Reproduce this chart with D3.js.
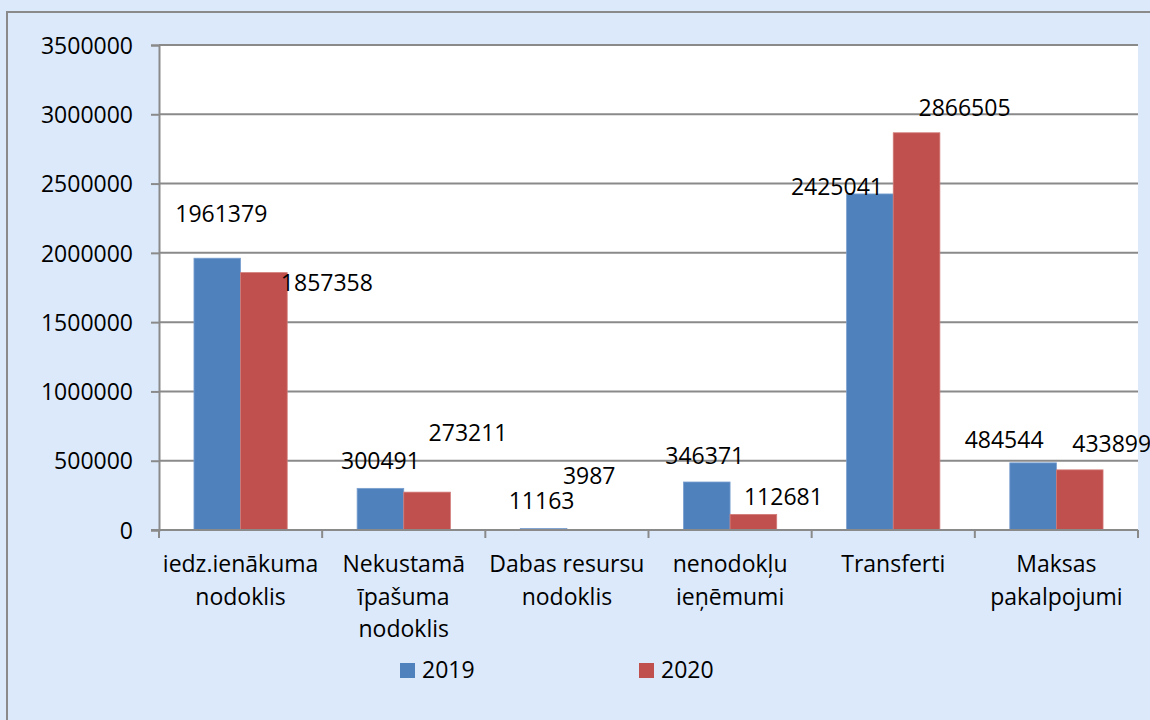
<!DOCTYPE html>
<html>
<head>
<meta charset="utf-8">
<script src="https://cdn.jsdelivr.net/npm/d3@7"></script>
<style>
  html, body { margin: 0; padding: 0; background: #dbe9fb; }
  svg { display: block; font-family: "Open Sans", sans-serif; }
</style>
</head>
<body>
<div id="chart"></div>
<script>
// categories (label lines) and values
const categories = [
  ["iedz.ienākuma", "nodoklis"],
  ["Nekustamā", "īpašuma", "nodoklis"],
  ["Dabas resursu", "nodoklis"],
  ["nenodokļu", "ieņēmumi"],
  ["Transferti"],
  ["Maksas", "pakalpojumi"],
];
const seriesNames = ["2019", "2020"];
const values2019 = [1961379, 300491, 11163, 346371, 2425041, 484544];
const values2020 = [1857358, 273211, 3987, 112681, 2866505, 433899];
const yTicks = [0, 500000, 1000000, 1500000, 2000000, 2500000, 3000000, 3500000];

// labels were dragged by hand in the original, nudge [dx, dy] from bar top centre
const labelNudge2019 = [[4, -44], [0, -27], [-2, -27], [-2, -26], [-33, -7], [-29, -23]];
const labelNudge2020 = [[63, 10], [41, -59], [-1, -53], [30, -17], [48, -25], [32, -26]];

function drawChart(id) {
  const w = 1150;
  const h = 720;
  const left = 159, right = 1138, top = 45, bottom = 530;

  const svg = d3
    .select(`#${id}`)
    .append("svg")
    .attr("width", w)
    .attr("height", h);

  // outer frame
  svg.append("rect")
    .attr("x", 0).attr("y", 0).attr("width", w).attr("height", h)
    .attr("fill", "#dbe9fb");
  svg.append("rect")
    .attr("x", 7).attr("y", 12).attr("width", w + 20).attr("height", h + 20)
    .attr("fill", "#dbe9fb")
    .attr("stroke", "#8a8a8a")
    .attr("stroke-width", 2);

  // plot area
  svg.append("rect")
    .attr("x", left).attr("y", top)
    .attr("width", right - left).attr("height", bottom - top)
    .attr("fill", "#fff");

  const keys = categories.map((c) => c.join(" "));
  const x = d3.scaleBand().domain(keys).range([left, right]).padding(0);
  const xs = d3.scaleBand().domain(seriesNames).range([0, x.bandwidth()])
    .paddingInner(0).paddingOuter(0.75);
  const y = d3.scaleLinear().domain([0, 3500000]).range([bottom, top]);

  // grid lines + y axis
  const yAxis = d3.axisLeft(y).tickValues(yTicks).tickFormat(d3.format("d"))
    .tickSize(8).tickPadding(18);
  const gy = svg.append("g").attr("transform", `translate(${left},0)`).call(yAxis);
  gy.select(".domain").attr("stroke", "#8a8a8a").attr("stroke-width", 2);
  gy.selectAll(".tick line").attr("stroke", "#8a8a8a").attr("stroke-width", 2);
  gy.selectAll(".tick text")
    .attr("font-size", 23).attr("fill", "#000")
    .attr("font-family", "Open Sans, sans-serif")
    .attr("dy", "0.36em");

  svg.append("g")
    .selectAll("line")
    .data(yTicks.filter((t) => t > 0))
    .enter()
    .append("line")
    .attr("x1", left).attr("x2", right)
    .attr("y1", (d) => y(d)).attr("y2", (d) => y(d))
    .attr("stroke", "#8a8a8a").attr("stroke-width", 2);

  // bars
  const colors = { "2019": "#4f81bd", "2020": "#c0504d" };
  const rows = [];
  keys.forEach((k, i) => {
    rows.push({ key: k, s: "2019", v: values2019[i], n: labelNudge2019[i] });
    rows.push({ key: k, s: "2020", v: values2020[i], n: labelNudge2020[i] });
  });

  svg.append("g")
    .selectAll("rect")
    .data(rows)
    .enter()
    .append("rect")
    .attr("x", (d) => x(d.key) + xs(d.s))
    .attr("y", (d) => y(d.v))
    .attr("width", xs.bandwidth())
    .attr("height", (d) => y(0) - y(d.v))
    .attr("fill", (d) => colors[d.s])
    .attr("stroke", (d) => (d.s === "2019" ? "#7a9fd0" : "#d27a77"))
    .attr("stroke-width", 0.8);

  // x axis line and category ticks
  svg.append("line")
    .attr("x1", left - 8).attr("x2", right)
    .attr("y1", bottom).attr("y2", bottom)
    .attr("stroke", "#8a8a8a").attr("stroke-width", 2);
  svg.append("g")
    .selectAll("line")
    .data(d3.range(keys.length + 1))
    .enter()
    .append("line")
    .attr("x1", (i) => left + i * x.step())
    .attr("x2", (i) => left + i * x.step())
    .attr("y1", bottom).attr("y2", bottom + 8)
    .attr("stroke", "#8a8a8a").attr("stroke-width", 2);

  // category labels
  const cat = svg.append("g")
    .selectAll("text")
    .data(categories)
    .enter()
    .append("text")
    .attr("text-anchor", "middle")
    .attr("font-size", 23)
    .attr("fill", "#000");
  cat.selectAll("tspan")
    .data((d, i) => d.map((line) => ({ line, i })))
    .enter()
    .append("tspan")
    .attr("x", (d) => x(keys[d.i]) + x.bandwidth() / 2)
    .attr("y", (d, j) => 572 + j * 32.5)
    .text((d) => d.line);

  // data labels
  svg.append("g")
    .selectAll("text")
    .data(rows)
    .enter()
    .append("text")
    .attr("text-anchor", "middle")
    .attr("font-size", 23)
    .attr("fill", "#000")
    .attr("x", (d) => x(d.key) + xs(d.s) + xs.bandwidth() / 2 + d.n[0])
    .attr("y", (d) => y(d.v) + d.n[1] + 8)
    .text((d) => d.v);

  // legend
  const legendX = [400, 639];
  const lg = svg.append("g")
    .selectAll("g")
    .data(seriesNames)
    .enter()
    .append("g")
    .attr("transform", (d, i) => `translate(${legendX[i]},663)`);
  lg.append("rect")
    .attr("width", 15).attr("height", 15)
    .attr("fill", (d) => colors[d]);
  lg.append("text")
    .attr("x", 22).attr("y", 15)
    .attr("font-size", 23)
    .attr("fill", "#000")
    .text((d) => d);
}

document.addEventListener("DOMContentLoaded", function () {
  drawChart("chart");
});
</script>
</body>
</html>
